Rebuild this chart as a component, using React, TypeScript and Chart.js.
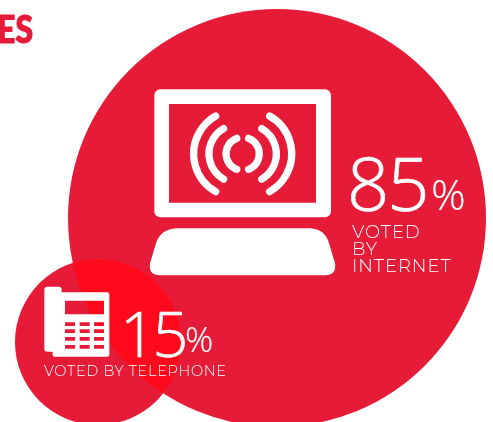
import React, { useEffect, useRef } from "react";
import { Chart, registerables } from "chart.js";

Chart.register(...registerables);

const categories = ["VOTED BY INTERNET", "VOTED BY TELEPHONE"];
const shares = [85, 15];
const centerX = [277, 98];
const centerY = [218, 342];
const radii = [209, 83];
const RED = "#E61B38";
const OVERLAP = "#FF0A1C";

const text = (ctx: any, s: string, x: number, y: number, font: string, spacing = 0, align = "left", heavy = 0) => {
  ctx.font = font;
  ctx.textAlign = align;
  ctx.textBaseline = "alphabetic";
  ctx.letterSpacing = spacing + "px";
  ctx.fillText(s, x, y);
  if (heavy) {
    ctx.lineWidth = heavy;
    ctx.strokeText(s, x, y);
  }
  ctx.letterSpacing = "0px";
};

const overlapPlugin = {
  id: "overlap",
  afterDatasetsDraw(chart: any) {
    const ctx = chart.ctx;
    const a = chart.getDatasetMeta(0).data[0];
    const b = chart.getDatasetMeta(1).data[0];
    ctx.save();
    ctx.beginPath();
    ctx.arc(a.x, a.y, radii[0], 0, Math.PI * 2);
    ctx.clip();
    ctx.beginPath();
    ctx.arc(b.x, b.y, radii[1], 0, Math.PI * 2);
    ctx.fillStyle = OVERLAP;
    ctx.fill();
    ctx.restore();

    ctx.save();
    const X = (v: number) => a.x - 137 + v / 3;
    const Y = (v: number) => a.y - 138 + v / 3;
    ctx.fillStyle = "#fff";
    ctx.beginPath();
    ctx.roundRect(X(43), Y(28), 530 / 3, 384 / 3, 6);
    ctx.rect(X(87), Y(72), 441 / 3, 296 / 3);
    ctx.fill("evenodd");
    // keyboard
    ctx.beginPath();
    ctx.moveTo(X(110), Y(445));
    ctx.lineTo(X(510), Y(445));
    ctx.quadraticCurveTo(X(555), Y(447), X(567), Y(490));
    ctx.lineTo(X(585), Y(550));
    ctx.quadraticCurveTo(X(590), Y(586), X(555), Y(586));
    ctx.lineTo(X(60), Y(586));
    ctx.quadraticCurveTo(X(25), Y(586), X(30), Y(550));
    ctx.lineTo(X(48), Y(490));
    ctx.quadraticCurveTo(X(62), Y(447), X(110), Y(445));
    ctx.fill();
    // signal arcs
    ctx.strokeStyle = "#fff";
    ctx.lineWidth = 7.3;
    ctx.lineCap = "round";
    const cx = X(308), cy = Y(221.5);
    const arcs = [
      [0, 16.6, 69],
      [-4.5, 29.2, 60],
      [-5.5, 43.5, 60.4],
    ];
    arcs.forEach(([d, r, deg]) => {
      const t = (deg * Math.PI) / 180;
      ctx.beginPath();
      ctx.arc(cx + d, cy, r, Math.PI - t, Math.PI + t);
      ctx.stroke();
      ctx.beginPath();
      ctx.arc(cx - d, cy, r, -t, t);
      ctx.stroke();
    });

    // phone icon anchored to small bubble
    const px = (v: number) => b.x - 88 + v / 3;
    const py = (v: number) => b.y - 87 + v / 3;
    ctx.beginPath();
    ctx.roundRect(px(103), py(95), 52 / 3, 195 / 3, 3);
    ctx.fill();
    ctx.beginPath();
    ctx.roundRect(px(128), py(112), 170 / 3, 193 / 3, 2);
    ctx.rect(px(165), py(137), 117 / 3, 41 / 3);
    [165, 209, 252].forEach((kx) => {
      [202, 223, 246, 270].forEach((ky) => {
        ctx.rect(px(kx), py(ky), 30 / 3, 11 / 3);
      });
    });
    ctx.fill("evenodd");

    // labels
    ctx.fillStyle = "#fff";
    ctx.lineCap = "butt";
    ctx.lineJoin = "round";
    text(ctx, String(shares[0]), 347, 211, "300 74px 'Open Sans'", -2, "left", 0.7);
    text(ctx, "%", 431, 210, "300 43px 'Open Sans'", 0, "left", 0.2);
    const lab = "300 18px Montserrat, Lato";
    text(ctx, "VOTED", 352, 238, lab, 0.95);
    text(ctx, "BY", 352, 255, lab, 0.95);
    text(ctx, "INTERNET", 352, 272, lab, 0.95);
    text(ctx, String(shares[1]), 120, 357, "300 63px 'Open Sans'", -3.5, "left", 0.6);
    text(ctx, "%", 185, 352, "300 35px 'Open Sans'", 0, "left", 0.2);
    text(ctx, categories[1], 44, 376, "300 14.5px Montserrat, Lato", 0.7);
    // cropped heading
    ctx.fillStyle = RED;
    ctx.strokeStyle = RED;
    ctx.save();
    ctx.translate(33, 43);
    ctx.scale(0.84, 1);
    text(ctx, "ES", 0, 0, "900 38px Lato", 0, "right", 1.2);
    ctx.restore();
    ctx.restore();
  },
};

export default function App() {
  const ref = useRef<HTMLCanvasElement>(null);
  useEffect(() => {
    document.body.style.margin = "0";
    const chart = new Chart(ref.current!, {
      type: "bubble",
      data: {
        datasets: categories.map((label, i) => ({
          label,
          data: [{ x: centerX[i], y: centerY[i], r: radii[i] }],
          backgroundColor: RED,
          borderWidth: 0,
          hoverRadius: 0,
          clip: false as any,
        })),
      },
      options: {
        responsive: false,
        animation: false,
        layout: { padding: 0, autoPadding: false },
        plugins: { legend: { display: false }, tooltip: { enabled: false } },
        scales: {
          x: { type: "linear", min: 0, max: 493, display: false },
          y: { type: "linear", min: 0, max: 422, reverse: true, display: false },
        },
      },
      plugins: [overlapPlugin],
    });
    return () => chart.destroy();
  }, []);
  return (
    <canvas
      ref={ref}
      width={493}
      height={422}
      style={{ display: "block", width: 493, height: 422 }}
    />
  );
}
